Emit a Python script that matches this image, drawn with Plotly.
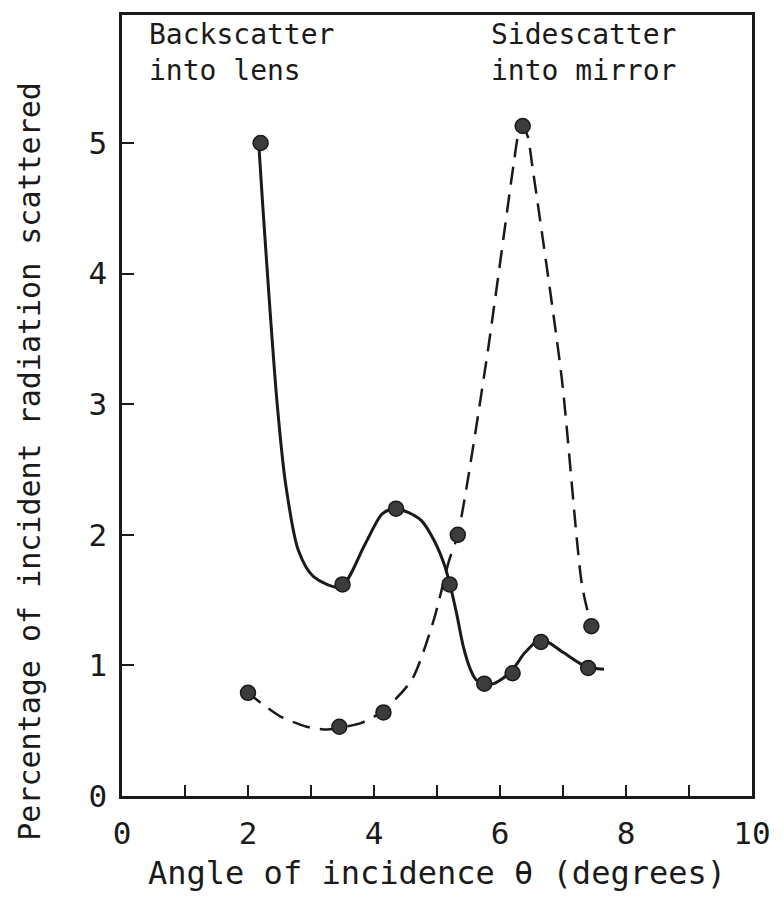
import plotly.graph_objects as go

# Measured data points
back_x = [2.2, 3.5, 4.35, 5.2, 5.75, 6.2, 6.65, 7.4]
back_y = [5.0, 1.62, 2.2, 1.62, 0.86, 0.94, 1.18, 0.98]
side_x = [2.0, 3.45, 4.15, 5.33, 6.36, 7.45]
side_y = [0.79, 0.53, 0.64, 2.0, 5.13, 1.3]

# Hand-drawn smooth curves
back_curve_x = [2.17, 2.23, 2.46, 2.6, 2.8, 3.04, 3.47, 3.86, 4.13, 4.33, 4.55, 4.75,
                4.95, 5.11, 5.2, 5.31, 5.42, 5.53, 5.62, 5.73, 5.9, 6.17, 6.4, 6.65,
                7.0, 7.37, 7.65]
back_curve_y = [5.0, 4.55, 3.02, 2.38, 1.88, 1.68, 1.6, 1.93, 2.16, 2.2, 2.17, 2.11,
                1.96, 1.78, 1.63, 1.4, 1.14, 0.97, 0.89, 0.86, 0.86, 0.95, 1.1, 1.2,
                1.1, 0.99, 0.97]
side_curve_x = [1.97, 2.51, 2.93, 3.2, 3.43, 3.8, 4.14, 4.6, 4.95, 5.19, 5.33, 5.78,
                6.22, 6.29, 6.36, 6.44, 6.52, 6.98, 7.3, 7.45]
side_curve_y = [0.8, 0.61, 0.53, 0.51, 0.52, 0.56, 0.65, 0.89, 1.35, 1.8, 2.0, 3.32,
                4.85, 5.06, 5.13, 5.05, 4.8, 3.2, 1.62, 1.3]

x_ticks = [0, 2, 4, 6, 8, 10]
y_ticks = [0, 1, 2, 3, 4, 5]

FONT = "DejaVu Sans Mono"
INK = "#1a1a1a"

fig = go.Figure()
fig.add_trace(go.Scatter(x=back_curve_x, y=back_curve_y, mode="lines",
                         line=dict(color=INK, width=3, shape="spline", smoothing=0.8),
                         hoverinfo="skip", showlegend=False))
fig.add_trace(go.Scatter(x=side_curve_x, y=side_curve_y, mode="lines",
                         line=dict(color=INK, width=2.5, dash="18px,10px", shape="spline", smoothing=0.7),
                         hoverinfo="skip", showlegend=False))
fig.add_trace(go.Scatter(x=back_x, y=back_y, mode="markers",
                         marker=dict(size=15, color="#3c3c3c", line=dict(color=INK, width=1.5)),
                         name="Backscatter into lens", showlegend=False))
fig.add_trace(go.Scatter(x=side_x, y=side_y, mode="markers",
                         marker=dict(size=15, color="#3c3c3c", line=dict(color=INK, width=1.5)),
                         name="Sidescatter into mirror", showlegend=False))

fig.add_annotation(x=0.4, y=5.97, xref="x", yref="y", xanchor="left", yanchor="top",
                   text="Backscatter<br>into lens", showarrow=False, align="left",
                   font=dict(family=FONT, size=28, color=INK))
fig.add_annotation(x=5.83, y=5.97, xref="x", yref="y", xanchor="left", yanchor="top",
                   text="Sidescatter<br>into mirror", showarrow=False, align="left",
                   font=dict(family=FONT, size=28, color=INK))
# y-axis title (placed lower than centre, as in the original)
fig.add_annotation(x=0, y=0.428, xref="paper", yref="paper", xanchor="center", yanchor="middle",
                   xshift=-92, textangle=-90, showarrow=False,
                   text="Percentage of incident radiation scattered",
                   font=dict(family=FONT, size=30, color=INK))

fig.update_layout(
    width=783, height=897,
    margin=dict(l=122, r=23, t=12, b=100),
    paper_bgcolor="white", plot_bgcolor="white",
    font=dict(family=FONT, color=INK),
    xaxis=dict(range=[0, 10], tickvals=x_ticks, ticktext=[str(v) for v in x_ticks],
               ticks="inside", ticklen=11, tickwidth=2, tickcolor=INK,
               minor=dict(dtick=1, ticks="inside", ticklen=11, tickwidth=2, tickcolor=INK),
               showline=True, linecolor=INK, linewidth=2.5, mirror=True,
               showgrid=False, zeroline=False, ticklabelstandoff=8,
               tickfont=dict(size=31, family=FONT, color=INK),
               title=dict(text="Angle of incidence θ (degrees)", standoff=12,
                          font=dict(size=32, family=FONT, color=INK))),
    yaxis=dict(range=[0, 5.98], tickvals=y_ticks, ticktext=[str(v) for v in y_ticks],
               ticks="inside", ticklen=12, tickwidth=2, tickcolor=INK,
               showline=True, linecolor=INK, linewidth=2.5, mirror=True,
               showgrid=False, zeroline=False, ticklabelstandoff=6,
               tickfont=dict(size=31, family=FONT, color=INK)),
)

fig.write_html("out.html", config={"displayModeBar": False},
               post_script="document.body.style.margin='0';document.body.style.overflow='hidden';")
